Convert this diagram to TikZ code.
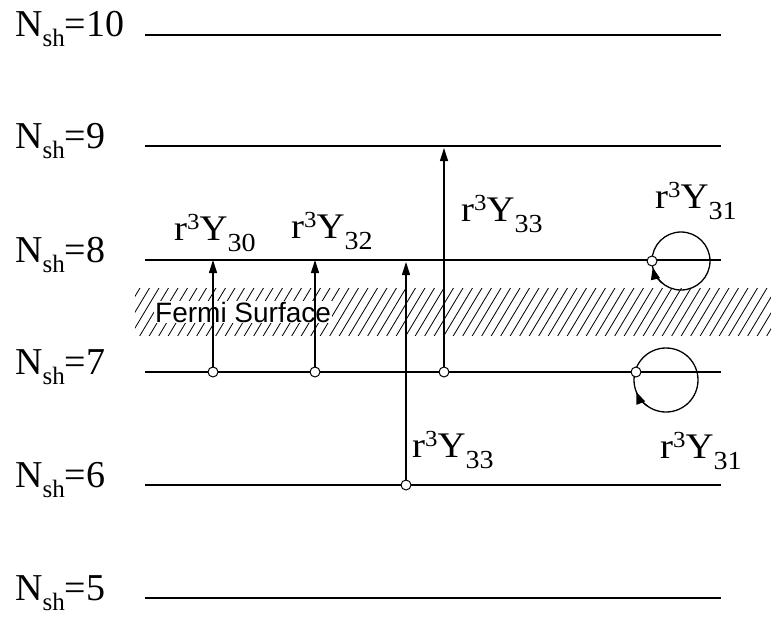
\documentclass[tikz,border=0pt]{standalone}
\usepackage{graphicx}
\usepackage{fontspec}
\setmainfont{Liberation Serif}
\newfontfamily\fermifont{Liberation Sans}
\usetikzlibrary{arrows.meta}
\newcommand\rlabel[1]{\scalebox{1.08}[1]{r\raisebox{11pt}{\fontsize{23}{23}\selectfont 3}Y\raisebox{-11pt}{\fontsize{26}{26}\selectfont #1}}}
\newcommand\nlabel[1]{N\raisebox{-10pt}{\fontsize{25}{25}\selectfont sh}=#1}
\begin{document}
\begin{tikzpicture}[x=1pt,y=-1pt,
  level/.style={line width=1.3pt},
  trans/.style={line width=1.1pt,-{Triangle[width=8pt,length=13pt]}},
  looparr/.style={line width=1.2pt,-{Triangle[width=9pt,length=12pt]}},
  dot/.style={circle,draw,fill=white,line width=1pt,inner sep=0pt,minimum size=10pt},
  lvlab/.style={anchor=base west,inner sep=0pt,font=\fontsize{38}{38}\selectfont},
  rlab/.style={anchor=base west,inner sep=0pt,font=\fontsize{36}{36}\selectfont},
  loopc/.style={line width=1.3pt}]
\useasboundingbox (0,0) rectangle (771,618);
% Fermi band
\begin{scope}
\clip (135,288) rectangle (771,335);
\foreach \i in {0,...,75}{
  \draw[line width=0.8pt] ({110+9.5*\i},338) -- ++(30,-50);
}
\end{scope}
\node[anchor=west,inner sep=1pt,fill=white,font=\fermifont\fontsize{28}{28}\selectfont] (fermi) at (154,312) {Fermi Surface};
% levels
\foreach \n/\y in {10/35,9/146,8/260,7/372,6/485,5/598}{
  \coordinate (L\n a) at (145,\y);
  \coordinate (L\n b) at (721,\y);
  \draw[level] (L\n a) -- (L\n b);
  \node[lvlab] (N\n) at (15,\y+2) {\nlabel{\n}};
}
% transitions
\node[dot] (d1) at (213,372) {};
\coordinate (t1) at (213,260);
\draw[trans] (d1) -- (t1);
\node[rlab] (l1) at (174,240) {\rlabel{30}};
\node[dot] (d2) at (315,372) {};
\coordinate (t2) at (315,260);
\draw[trans] (d2) -- (t2);
\node[rlab] (l2) at (291,238) {\rlabel{32}};
\node[dot] (d3) at (406,485) {};
\coordinate (t3) at (406,262);
\draw[trans] (d3) -- (t3);
\node[rlab] (l3) at (412,457) {\rlabel{33}};
\node[dot] (d4) at (444,372) {};
\coordinate (t4) at (444,148);
\draw[trans] (d4) -- (t4);
\node[rlab] (l4) at (461,221) {\rlabel{33}};
% loops
\coordinate (c8) at (681,261);
\draw[loopc] (c8) circle (29);
\draw[looparr] (c8) ++(130:29) arc (130:167:29);
\node[dot] (d8) at (652,261) {};
\node[rlab] (l8) at (655,208) {\rlabel{31}};
\coordinate (c7) at (666,380);
\draw[loopc] (c7) circle (32);
\draw[looparr] (c7) ++(125:32) arc (125:158:32);
\node[dot] (d7) at (636,372) {};
\node[rlab] (l7) at (660,458) {\rlabel{31}};
\end{tikzpicture}
\end{document}
